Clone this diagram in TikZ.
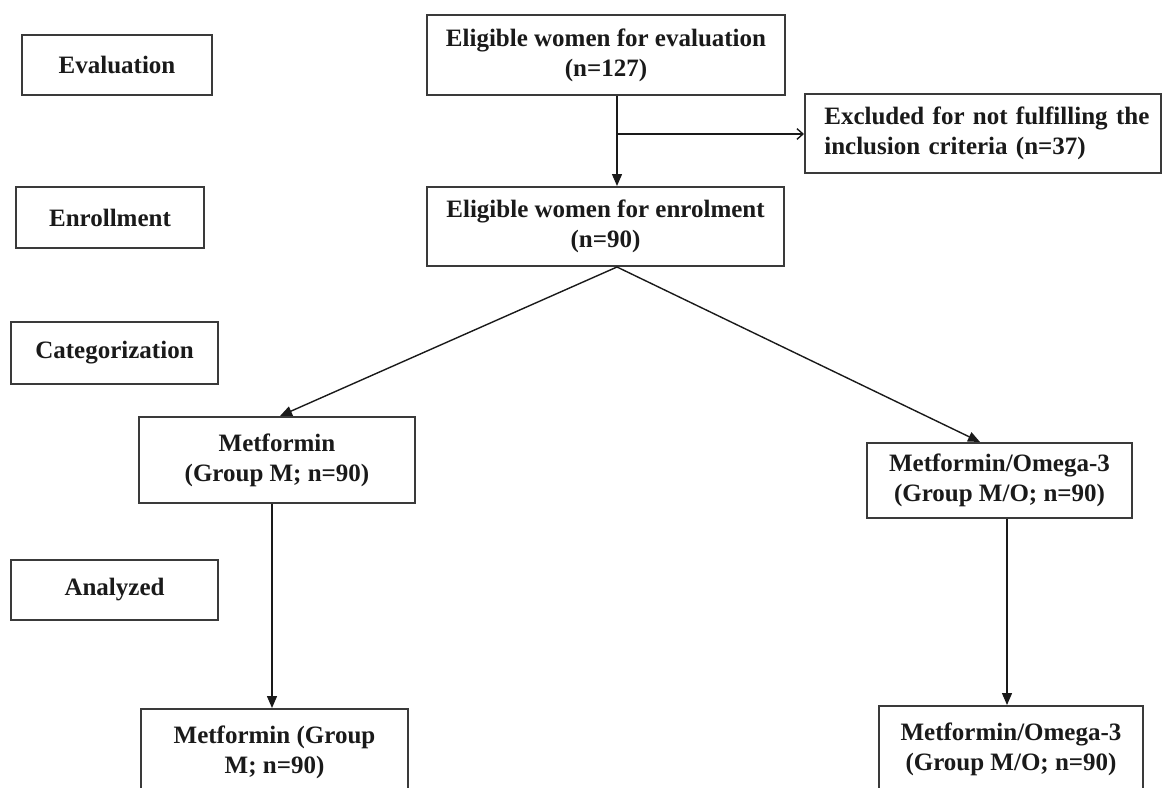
\documentclass[tikz,border=0pt]{standalone}
\usepackage{fontspec}
\setmainfont{Liberation Serif}
\usetikzlibrary{arrows.meta}
\definecolor{boxline}{HTML}{3A3A3A}
\definecolor{ink}{HTML}{1A1A1A}
\tikzset{
  box/.style={draw=boxline, line width=1.5pt, rectangle, inner sep=0pt, align=center,
    text=ink, font=\fontsize{18.75pt}{22.5pt}\selectfont\bfseries},
  conn/.style={draw=ink, line width=1.05pt},
  arr/.style={conn, -{Triangle[length=9pt,width=7.5pt]}},
  openarr/.style={conn, -{Straight Barb[length=4.5pt,width=8pt]}}
}
\begin{document}
\begin{tikzpicture}[x=0.75pt, y=-0.75pt]
\clip (0,0) rectangle (1166,788);
\fill[white] (0,0) rectangle (1166,788);
% stage labels
\node[box, minimum width=142.5pt, minimum height=45pt] (eval) at (117,65) {Evaluation};
\node[box, minimum width=141pt, minimum height=45.75pt] (enr) at (110,217.5) {Enrollment};
\node[box, minimum width=155.25pt, minimum height=46.5pt] (cat) at (114.5,353) {Categorization};
\node[box, minimum width=155.25pt, minimum height=45pt] (ana) at (114.5,590) {Analyzed};
% flow boxes
\node[box, minimum width=268.5pt, minimum height=60pt] (e1) at (606,55) {Eligible women for evaluation\\(n=127)};
\node[box, minimum width=267.75pt, minimum height=59.25pt] (e2) at (605.5,226.5) {Eligible women for enrolment\\(n=90)};
\node[box, align=left, text width=238pt, minimum width=267pt, minimum height=59.25pt] (exc) at (983,133.5) {\makebox[238pt][s]{Excluded for not fulfilling the}\\inclusion criteria (n=37)};
\node[box, minimum width=207pt, minimum height=64.5pt] (m1) at (277,460) {Metformin\\(Group M; n=90)};
\node[box, minimum width=198.75pt, minimum height=56.25pt] (mo1) at (999.5,480.5) {Metformin/Omega-3\\(Group M/O; n=90)};
\node[box, minimum width=200.25pt, minimum height=64.5pt] (m2) at (274.5,752) {Metformin (Group\\M; n=90)};
\node[box, minimum width=198pt, minimum height=64.5pt] (mo2) at (1011,749) {Metformin/Omega-3\\(Group M/O; n=90)};
% connectors
\coordinate (sp) at (617,134);
\coordinate (a1) at (272,0);
\coordinate (a2) at (1007,0);
\coordinate (t2) at (980,0);
\draw[conn] (e1.south -| sp) -- (sp);
\draw[arr] (sp) -- (e2.north -| sp);
\draw[openarr] (sp) -- (exc.west |- sp);
\draw[arr] (e2.south -| sp) -- ([xshift=2.25pt]m1.north);
\draw[arr] (e2.south -| sp) -- (mo1.north -| t2);
\draw[arr] (m1.south -| a1) -- (m2.north -| a1);
\draw[arr] (mo1.south -| a2) -- (mo2.north -| a2);
\end{tikzpicture}
\end{document}
